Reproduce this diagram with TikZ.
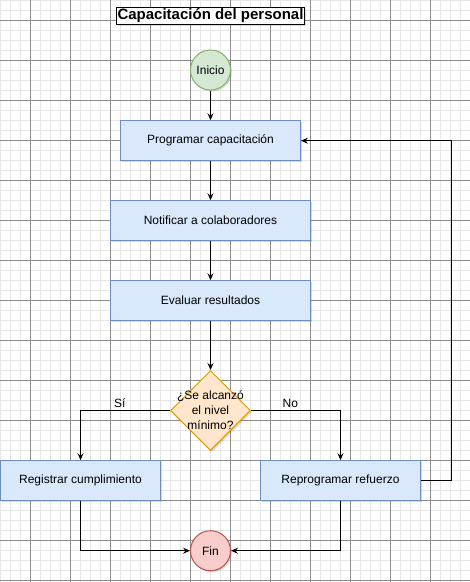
\documentclass[tikz,border=0pt]{standalone}
\usepackage{fontspec}
\setmainfont{Liberation Sans}
\usetikzlibrary{arrows.meta,shapes.geometric,shadows}

\definecolor{azulfondo}{HTML}{DAE8FC}
\definecolor{azulborde}{HTML}{6C8EBF}
\definecolor{verdefondo}{HTML}{D5E8D4}
\definecolor{verdeborde}{HTML}{82B366}
\definecolor{rojofondo}{HTML}{F8CECC}
\definecolor{rojoborde}{HTML}{B85450}
\definecolor{naranjafondo}{HTML}{FFE6CC}
\definecolor{naranjaborde}{HTML}{D79B00}
\definecolor{rejillafina}{HTML}{E6E6E6}
\definecolor{rejillagruesa}{HTML}{8C8C8C}

\tikzset{
  sombra/.style={drop shadow={shadow xshift=1.5pt, shadow yshift=-1.5pt, opacity=0.25, fill=black!60}},
  paso/.style={rectangle, draw=azulborde, fill=azulfondo, line width=1pt, minimum height=40pt,
    font=\fontsize{12}{14}\selectfont, sombra},
  terminal/.style={circle, line width=1pt, minimum size=40pt, inner sep=0pt,
    font=\fontsize{12}{14}\selectfont, sombra},
  decision/.style={diamond, draw=naranjaborde, fill=naranjafondo, line width=1pt, aspect=1,
    minimum width=80pt, minimum height=80pt, inner sep=0pt, sombra},
  flecha/.style={line width=1pt, -{Stealth[length=7pt, width=6pt, inset=2.5pt]}},
  etiqueta/.style={font=\fontsize{12}{14}\selectfont, inner sep=2pt},
}

\begin{document}
\begin{tikzpicture}[x=1pt, y=-1pt]
    \useasboundingbox (0,0) rectangle (470,582);

    % 背景のグリッド
    \foreach \x in {0,10,...,470} \draw[rejillafina, line width=1.5pt] (\x+0.7, 0) -- (\x+0.7, 582);
    \foreach \y in {0,10,...,580} \draw[rejillafina, line width=1.5pt] (0, \y+0.7) -- (470, \y+0.7);
    \foreach \x in {30,70,...,470} \draw[rejillagruesa, line width=0.8pt] (\x+0.7, 0) -- (\x+0.7, 582);
    \foreach \y in {20,60,...,580} \draw[rejillagruesa, line width=0.8pt] (0, \y+0.7) -- (470, \y+0.7);

    % タイトル
    \node[draw=black, fill=white, line width=1pt, inner sep=1pt, sombra,
      font=\fontsize{15}{17}\selectfont\bfseries] (titulo) at (210.5, 16) {Capacitación del personal};

    % ノード
    \node[terminal, draw=verdeborde, fill=verdefondo] (inicio) at (210.5, 70) {Inicio};
    \node[paso, minimum width=180pt] (programar) at (210.5, 140.7) {Programar capacitación};
    \node[paso, minimum width=200pt] (notificar) at (210.5, 220.7) {Notificar a colaboradores};
    \node[paso, minimum width=200pt] (evaluar) at (210.5, 300.7) {Evaluar resultados};
    \node[decision, label={[align=center, font=\fontsize{12}{15}\selectfont]center:¿Se alcanzó\\el nivel\\mínimo?}]
      (pregunta) at (210.5, 410.5) {};
    \node[paso, minimum width=160pt] (registrar) at (80.5, 480.7) {Registrar cumplimiento};
    \node[paso, minimum width=160pt] (reprogramar) at (340.5, 480.7) {Reprogramar refuerzo};
    \node[terminal, draw=rojoborde, fill=rojofondo] (fin) at (210.5, 550.7) {Fin};

    % 矢印
    \draw[flecha] (inicio) -- (programar);
    \draw[flecha] (programar) -- (notificar);
    \draw[flecha] (notificar) -- (evaluar);
    \draw[flecha] (evaluar) -- (pregunta);
    \draw[flecha] (pregunta.west) -| node[etiqueta, pos=0.28, above] {Sí} (registrar.north);
    \draw[flecha] (pregunta.east) -| node[etiqueta, pos=0.22, above] {No} (reprogramar.north);
    \draw[flecha] (registrar.south) |- (fin.west);
    \draw[flecha] (reprogramar.south) |- (fin.east);
    \draw[flecha] (reprogramar.east) -- ++(30,0) |- (programar.east);
\end{tikzpicture}
\end{document}
